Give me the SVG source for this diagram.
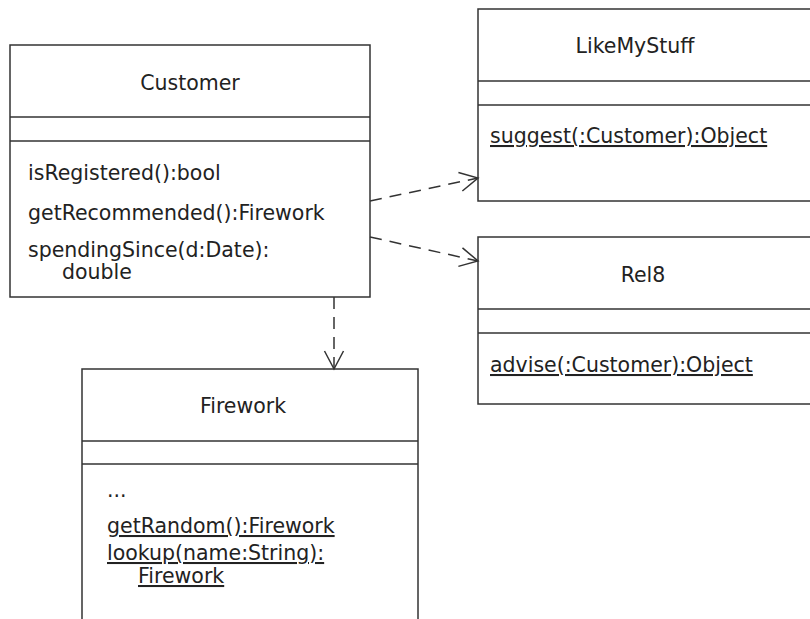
<svg xmlns="http://www.w3.org/2000/svg" width="810" height="619" viewBox="0 0 810 619">
<style>
.box{fill:#fff;stroke:#333;stroke-width:1.5}
.div{stroke:#333;stroke-width:1.5}
text{font-family:"DejaVu Sans",sans-serif;font-size:20.5px;fill:#222}
.c{text-anchor:middle}
.u{text-decoration:underline}
.dep{fill:none;stroke:#333;stroke-width:1.5;stroke-dasharray:12 8}
</style>
<defs>
<marker id="open" viewBox="0 0 22 22" refX="20" refY="11" markerWidth="22" markerHeight="22" markerUnits="userSpaceOnUse" orient="auto">
<path d="M2,1.5 L20,11 L2,20.5" fill="none" stroke="#333" stroke-width="1.5"/>
</marker>
</defs>
<rect width="810" height="619" fill="#fff"/>
<g id="Customer">
<rect class="box" x="10" y="45" width="360" height="252"/>
<line class="div" x1="10" y1="117" x2="370" y2="117"/>
<line class="div" x1="10" y1="141" x2="370" y2="141"/>
<text class="c" x="190" y="90">Customer</text>
<text x="28" y="180">isRegistered():bool</text>
<text x="28" y="220">getRecommended():Firework</text>
<text x="28" y="257">spendingSince(d:Date):</text>
<text x="62" y="279">double</text>
</g>
<g id="LikeMyStuff">
<rect class="box" x="478" y="9" width="340" height="192"/>
<line class="div" x1="478" y1="81" x2="810" y2="81"/>
<line class="div" x1="478" y1="105" x2="810" y2="105"/>
<text class="c" x="635" y="53">LikeMyStuff</text>
<text class="u" x="490" y="143">suggest(:Customer):Object</text>
</g>
<g id="Rel8">
<rect class="box" x="478" y="237" width="340" height="167"/>
<line class="div" x1="478" y1="309" x2="810" y2="309"/>
<line class="div" x1="478" y1="333" x2="810" y2="333"/>
<text class="c" x="643" y="282">Rel8</text>
<text class="u" x="490" y="372">advise(:Customer):Object</text>
</g>
<g id="Firework">
<rect class="box" x="82" y="369" width="336" height="270"/>
<line class="div" x1="82" y1="441" x2="418" y2="441"/>
<line class="div" x1="82" y1="464" x2="418" y2="464"/>
<text class="c" x="243" y="413">Firework</text>
<text x="107" y="497">...</text>
<text class="u" x="107" y="533">getRandom():Firework</text>
<text class="u" x="107" y="560">lookup(name:String):</text>
<text class="u" x="138" y="583">Firework </text>
</g>
<g id="connectors">
<line class="dep" x1="370" y1="201" x2="478" y2="178" marker-end="url(#open)"/>
<line class="dep" x1="370" y1="237" x2="478" y2="261" marker-end="url(#open)"/>
<line class="dep" x1="334" y1="297" x2="334" y2="369" marker-end="url(#open)"/>
</g>
</svg>
